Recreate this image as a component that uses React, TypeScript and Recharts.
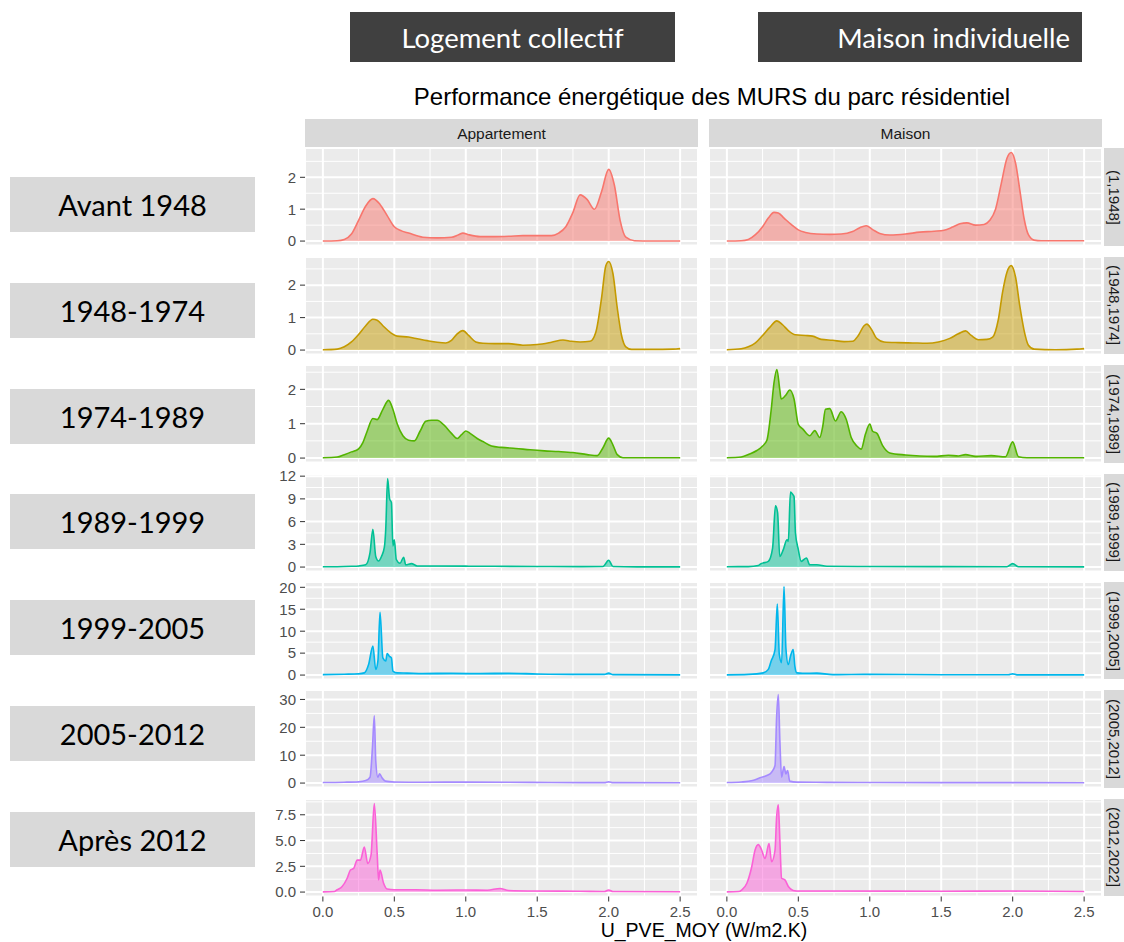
import React from "react";
import { Area, AreaChart, CartesianGrid, XAxis, YAxis } from "recharts";

const headerLabels = ["Logement collectif", "Maison individuelle"];
const periodLabels = ["Avant 1948", "1948-1974", "1974-1989", "1989-1999", "1999-2005", "2005-2012", "Après 2012"];
const periods = ["(1,1948]", "(1948,1974]", "(1974,1989]", "(1989,1999]", "(1999,2005]", "(2005,2012]", "(2012,2022]"];
const housingTypes = ["Appartement", "Maison"];
const palette = ["#F8766D", "#C49A00", "#53B400", "#00C094", "#00B6EB", "#A58AFF", "#FB61D7"];

const xTicks = [0, 0.5, 1, 1.5, 2, 2.5];
const xMinorTicks = [0.25, 0.75, 1.25, 1.75, 2.25];
const yTicks = [
  [0, 1, 2],
  [0, 1, 2],
  [0, 1, 2],
  [0, 3, 6, 9, 12],
  [0, 5, 10, 15, 20],
  [0, 10, 20, 30],
  [0, 2.5, 5, 7.5],
];
const yMinorTicks = [
  [0.5, 1.5, 2.5],
  [0.5, 1.5, 2.5],
  [0.5, 1.5, 2.5],
  [1.5, 4.5, 7.5, 10.5],
  [2.5, 7.5, 12.5, 17.5],
  [5, 15, 25],
  [1.25, 3.75, 6.25, 8.75],
];

// [U_PVE_MOY, density]
type Pt = [number, number];

const appart1948: Pt[] = [[0, 0], [0.1, 0.01], [0.15, 0.05], [0.2, 0.22], [0.25, 0.65], [0.3, 1.1], [0.35, 1.33], [0.4, 1.15], [0.45, 0.8], [0.5, 0.45], [0.55, 0.32], [0.6, 0.25], [0.7, 0.12], [0.8, 0.1], [0.9, 0.12], [0.95, 0.2], [0.98, 0.25], [1.02, 0.2], [1.1, 0.14], [1.2, 0.14], [1.3, 0.15], [1.4, 0.17], [1.5, 0.17], [1.6, 0.17], [1.65, 0.25], [1.7, 0.45], [1.75, 0.9], [1.8, 1.45], [1.85, 1.3], [1.9, 1.0], [1.95, 1.55], [2.0, 2.25], [2.04, 1.75], [2.08, 0.65], [2.12, 0.12], [2.18, 0.01], [2.3, 0], [2.5, 0]];
const maison1948: Pt[] = [[0, 0], [0.1, 0.01], [0.15, 0.05], [0.2, 0.2], [0.25, 0.45], [0.29, 0.72], [0.33, 0.9], [0.36, 0.88], [0.4, 0.72], [0.45, 0.52], [0.5, 0.35], [0.55, 0.27], [0.63, 0.22], [0.72, 0.21], [0.8, 0.22], [0.88, 0.3], [0.93, 0.42], [0.975, 0.48], [1.02, 0.36], [1.07, 0.24], [1.14, 0.19], [1.25, 0.22], [1.35, 0.28], [1.45, 0.31], [1.52, 0.34], [1.58, 0.44], [1.63, 0.54], [1.68, 0.57], [1.74, 0.5], [1.8, 0.52], [1.84, 0.65], [1.88, 1.0], [1.92, 1.8], [1.96, 2.6], [1.99, 2.78], [2.02, 2.45], [2.05, 1.6], [2.08, 0.7], [2.11, 0.2], [2.15, 0.03], [2.2, 0.01], [2.5, 0.01]];

const appart1974: Pt[] = [[0, 0.01], [0.1, 0.03], [0.15, 0.1], [0.2, 0.25], [0.25, 0.48], [0.3, 0.75], [0.35, 0.95], [0.38, 0.92], [0.42, 0.75], [0.47, 0.55], [0.52, 0.43], [0.6, 0.4], [0.66, 0.35], [0.73, 0.29], [0.8, 0.24], [0.86, 0.22], [0.9, 0.3], [0.94, 0.5], [0.98, 0.6], [1.02, 0.45], [1.07, 0.25], [1.12, 0.21], [1.2, 0.2], [1.3, 0.2], [1.4, 0.15], [1.5, 0.17], [1.6, 0.24], [1.68, 0.31], [1.74, 0.27], [1.8, 0.25], [1.87, 0.27], [1.91, 0.55], [1.95, 1.6], [1.98, 2.6], [2.0, 2.73], [2.03, 2.35], [2.06, 1.3], [2.09, 0.45], [2.12, 0.1], [2.16, 0.02], [2.3, 0.02], [2.45, 0.03], [2.5, 0.05]];
const maison1974: Pt[] = [[0, 0.01], [0.1, 0.04], [0.15, 0.1], [0.2, 0.22], [0.25, 0.45], [0.3, 0.7], [0.35, 0.9], [0.39, 0.78], [0.43, 0.6], [0.48, 0.47], [0.55, 0.45], [0.6, 0.43], [0.66, 0.33], [0.74, 0.3], [0.82, 0.26], [0.88, 0.27], [0.92, 0.45], [0.96, 0.75], [0.98, 0.8], [1.01, 0.65], [1.05, 0.35], [1.1, 0.25], [1.2, 0.23], [1.3, 0.22], [1.4, 0.21], [1.48, 0.25], [1.56, 0.36], [1.62, 0.5], [1.67, 0.59], [1.71, 0.45], [1.76, 0.32], [1.82, 0.33], [1.86, 0.4], [1.9, 0.95], [1.93, 1.8], [1.96, 2.4], [1.99, 2.6], [2.02, 2.25], [2.05, 1.35], [2.08, 0.6], [2.11, 0.15], [2.15, 0.03], [2.3, 0.01], [2.45, 0.03], [2.5, 0.05]];

const appart1989: Pt[] = [[0, 0.01], [0.1, 0.03], [0.15, 0.1], [0.2, 0.18], [0.25, 0.27], [0.28, 0.45], [0.31, 0.78], [0.35, 1.15], [0.38, 1.12], [0.42, 1.42], [0.46, 1.68], [0.49, 1.42], [0.52, 1.0], [0.56, 0.65], [0.6, 0.52], [0.64, 0.5], [0.68, 0.78], [0.72, 1.07], [0.76, 1.1], [0.8, 1.1], [0.85, 0.95], [0.9, 0.72], [0.94, 0.57], [0.97, 0.68], [1.0, 0.79], [1.03, 0.72], [1.08, 0.57], [1.12, 0.48], [1.18, 0.35], [1.25, 0.31], [1.35, 0.28], [1.45, 0.24], [1.55, 0.21], [1.65, 0.19], [1.75, 0.16], [1.85, 0.1], [1.92, 0.07], [1.96, 0.3], [2.0, 0.58], [2.03, 0.38], [2.06, 0.1], [2.1, 0.01], [2.5, 0.01]];
const maison1989: Pt[] = [[0, 0.01], [0.1, 0.03], [0.16, 0.12], [0.21, 0.22], [0.25, 0.35], [0.28, 0.52], [0.31, 1.4], [0.33, 2.2], [0.35, 2.58], [0.37, 2.0], [0.38, 1.72], [0.41, 1.82], [0.44, 1.98], [0.47, 1.72], [0.5, 0.98], [0.53, 0.85], [0.58, 0.65], [0.615, 0.8], [0.65, 0.6], [0.67, 0.9], [0.69, 1.42], [0.72, 1.44], [0.76, 1.08], [0.8, 1.35], [0.835, 1.13], [0.87, 0.6], [0.91, 0.35], [0.94, 0.26], [0.97, 0.7], [1.0, 0.99], [1.02, 0.78], [1.05, 0.72], [1.09, 0.36], [1.14, 0.15], [1.25, 0.09], [1.35, 0.06], [1.45, 0.05], [1.55, 0.08], [1.62, 0.06], [1.67, 0.1], [1.74, 0.05], [1.85, 0.07], [1.95, 0.04], [2.0, 0.47], [2.04, 0.04], [2.1, 0.01], [2.5, 0.01]];

const appart1999: Pt[] = [[0, 0.05], [0.1, 0.05], [0.2, 0.1], [0.25, 0.15], [0.3, 0.3], [0.33, 1.9], [0.35, 5.0], [0.37, 1.4], [0.39, 0.8], [0.41, 1.4], [0.43, 2.6], [0.44, 5.0], [0.453, 11.7], [0.467, 9.0], [0.48, 8.5], [0.49, 2.8], [0.5, 3.6], [0.514, 1.0], [0.54, 0.5], [0.565, 1.3], [0.58, 0.3], [0.62, 0.45], [0.66, 0.15], [0.8, 0.15], [1.0, 0.12], [1.2, 0.1], [1.5, 0.08], [1.8, 0.06], [1.96, 0.08], [2.0, 0.9], [2.03, 0.08], [2.2, 0.03], [2.5, 0.02]];
const maison1999: Pt[] = [[0, 0.05], [0.15, 0.06], [0.22, 0.2], [0.24, 0.45], [0.29, 0.75], [0.32, 2.5], [0.34, 8.1], [0.355, 7.2], [0.37, 1.4], [0.395, 2.3], [0.42, 3.6], [0.43, 3.4], [0.445, 9.9], [0.46, 9.6], [0.47, 9.3], [0.48, 4.5], [0.5, 2.3], [0.52, 0.75], [0.557, 1.2], [0.58, 0.3], [0.63, 0.3], [0.7, 0.1], [1.0, 0.08], [1.5, 0.06], [1.96, 0.05], [2.0, 0.45], [2.04, 0.05], [2.5, 0.03]];

const appart2005: Pt[] = [[0, 0.1], [0.15, 0.2], [0.25, 0.3], [0.29, 0.5], [0.32, 2.4], [0.35, 6.6], [0.37, 1.3], [0.385, 3.2], [0.4, 14.3], [0.42, 3.9], [0.44, 3.2], [0.45, 4.9], [0.465, 4.3], [0.48, 3.9], [0.49, 0.9], [0.52, 0.5], [0.59, 0.45], [0.7, 0.35], [0.9, 0.4], [1.1, 0.35], [1.3, 0.4], [1.5, 0.25], [1.8, 0.15], [1.97, 0.15], [2.0, 0.45], [2.03, 0.1], [2.5, 0.05]];
const maison2005: Pt[] = [[0, 0.05], [0.15, 0.15], [0.255, 0.5], [0.29, 1.3], [0.31, 3.2], [0.337, 5.8], [0.353, 16.2], [0.367, 4.7], [0.383, 2.8], [0.4, 20.2], [0.413, 6.2], [0.43, 2.4], [0.445, 4.3], [0.464, 5.8], [0.476, 2.0], [0.49, 0.5], [0.53, 0.4], [0.63, 0.45], [0.74, 0.1], [1.0, 0.15], [1.5, 0.08], [1.97, 0.08], [2.0, 0.3], [2.03, 0.05], [2.5, 0.05]];

const appart2012: Pt[] = [[0, 0.2], [0.15, 0.3], [0.25, 0.5], [0.3, 0.9], [0.33, 2.1], [0.347, 12.8], [0.36, 24.1], [0.37, 8.1], [0.385, 2.1], [0.397, 3.3], [0.414, 1.9], [0.437, 0.7], [0.5, 0.4], [0.7, 0.3], [1.0, 0.35], [1.3, 0.3], [1.6, 0.2], [1.97, 0.15], [2.0, 0.5], [2.03, 0.15], [2.5, 0.1]];
const maison2012: Pt[] = [[0, 0.2], [0.1, 0.4], [0.18, 0.9], [0.232, 1.9], [0.28, 2.7], [0.313, 3.9], [0.337, 6.3], [0.348, 23.5], [0.36, 31.8], [0.371, 15.2], [0.383, 2.1], [0.4, 5.9], [0.413, 3.3], [0.425, 4.5], [0.44, 0.7], [0.49, 0.35], [0.7, 0.25], [1.0, 0.2], [1.5, 0.15], [2.0, 0.15], [2.5, 0.1]];

const appart2022: Pt[] = [[0, 0.02], [0.08, 0.05], [0.1, 0.22], [0.135, 0.54], [0.17, 1.34], [0.193, 2.14], [0.216, 2.3], [0.24, 3.1], [0.263, 3.1], [0.29, 4.38], [0.314, 2.78], [0.337, 3.58], [0.36, 8.6], [0.38, 3.74], [0.39, 1.18], [0.4, 2.14], [0.425, 0.86], [0.45, 0.29], [0.5, 0.22], [0.65, 0.22], [0.8, 0.18], [1.0, 0.2], [1.15, 0.18], [1.24, 0.35], [1.3, 0.15], [1.5, 0.1], [1.8, 0.08], [1.97, 0.05], [2.0, 0.2], [2.03, 0.05], [2.5, 0.03]];
const maison2022: Pt[] = [[0, 0.02], [0.08, 0.05], [0.105, 0.22], [0.14, 0.86], [0.174, 2.46], [0.197, 4.06], [0.22, 4.6], [0.244, 4.06], [0.267, 3.26], [0.295, 4.7], [0.313, 2.94], [0.337, 4.06], [0.348, 7.25], [0.36, 8.47], [0.371, 5.0], [0.383, 1.34], [0.406, 1.18], [0.43, 0.54], [0.464, 0.16], [0.51, 0.1], [0.8, 0.1], [1.5, 0.08], [2.0, 0.1], [2.5, 0.05]];

const facets: Pt[][][] = [
  [appart1948, maison1948],
  [appart1974, maison1974],
  [appart1989, maison1989],
  [appart1999, maison1999],
  [appart2005, maison2005],
  [appart2012, maison2012],
  [appart2022, maison2022],
];

// layout (px)
const PANEL_LEFT = [305, 709];
const PANEL_W = 393;
const PANEL_TOP = 148.3;
const PANEL_H = 97.5;
const ROW_STEP = 108.4;
const Y_AXIS_W = 45;
const X_AXIS_H = 30;
const PAD = 8; // room so edge tick labels are not clipped
const xDomain: [number, number] = [-0.125, 2.625];

const ggFont = "'Liberation Sans', Arial, sans-serif";
const boxFont = "Lato, 'Open Sans', sans-serif";
const tickStyle = { fontSize: 15, fill: "#4D4D4D", fontFamily: ggFont };

function Facet({ row, col }: { row: number; col: number }) {
  const isLeft = col === 0;
  const isBottom = row === periods.length - 1;
  const data = facets[row][col].map(([u, d]) => ({ u, d }));
  // shared y scale across the row, expanded 5% like ggplot
  const yMax = Math.max(...facets[row].flatMap((s) => s.map((p) => p[1])));
  const yDomain: [number, number] = [-0.05 * yMax, 1.05 * yMax];
  const fmtY = (v: number) => (row === 6 ? v.toFixed(1) : String(v));
  return (
    <div
      style={{
        position: "absolute",
        left: PANEL_LEFT[col] - (isLeft ? Y_AXIS_W : 0),
        top: PANEL_TOP + row * ROW_STEP - PAD,
      }}
    >
      <AreaChart
        width={(isLeft ? Y_AXIS_W : 0) + PANEL_W}
        height={PANEL_H + 2 * PAD + (isBottom ? X_AXIS_H : 0)}
        data={data}
        margin={{ top: PAD, right: 0, bottom: PAD, left: 0 }}
      >
        <XAxis
          dataKey="u"
          type="number"
          domain={xDomain}
          ticks={xTicks}
          interval={0}
          allowDataOverflow
          hide={!isBottom}
          height={X_AXIS_H}
          axisLine={false}
          tickSize={5}
          tickMargin={5}
          tickLine={{ stroke: "#333333" }}
          tick={tickStyle}
          tickFormatter={(v: number) => v.toFixed(1)}
        />
        <XAxis xAxisId="minor" dataKey="u" type="number" domain={xDomain} ticks={xMinorTicks} allowDataOverflow hide />
        <YAxis
          type="number"
          domain={yDomain}
          ticks={yTicks[row]}
          interval={0}
          allowDataOverflow
          hide={!isLeft}
          width={Y_AXIS_W}
          axisLine={false}
          tickSize={5}
          tickMargin={4}
          tickLine={{ stroke: "#333333" }}
          tick={tickStyle}
          tickFormatter={fmtY}
        />
        <YAxis yAxisId="minor" type="number" domain={yDomain} ticks={yMinorTicks[row]} allowDataOverflow hide />
        <CartesianGrid xAxisId="minor" yAxisId="minor" fill="#EBEBEB" fillOpacity={1} stroke="#FFFFFF" strokeWidth={1} />
        <CartesianGrid stroke="#FFFFFF" strokeWidth={2} />
        <Area
          dataKey="d"
          type="monotone"
          baseValue={0}
          stroke={palette[row]}
          strokeWidth={1.6}
          fill={palette[row]}
          fillOpacity={0.5}
          dot={false}
          activeDot={false}
          isAnimationActive={false}
        />
      </AreaChart>
    </div>
  );
}

export default function App() {
  return (
    <div
      style={{
        position: "absolute",
        left: 0,
        top: 0,
        width: 1124,
        height: 942,
        overflow: "hidden",
        background: "#FFFFFF",
        fontFamily: ggFont,
      }}
    >
      {headerLabels.map((label, i) => (
        <div
          key={label}
          style={{
            position: "absolute",
            left: i === 0 ? 350 : 758,
            top: 12,
            width: i === 0 ? 325 : 324,
            height: 50,
            background: "#404040",
            color: "#FFFFFF",
            fontFamily: boxFont,
            fontSize: 27.5,
            display: "flex",
            alignItems: "center",
            justifyContent: i === 0 ? "center" : "flex-end",
            paddingRight: i === 0 ? 0 : 12,
            boxSizing: "border-box",
          }}
        >
          {label}
        </div>
      ))}

      <div
        style={{
          position: "absolute",
          left: 312,
          top: 85,
          width: 800,
          textAlign: "center",
          fontSize: 24,
          lineHeight: "24px",
          color: "#000000",
        }}
      >
        Performance énergétique des MURS du parc résidentiel
      </div>

      {periodLabels.map((label, i) => (
        <div
          key={label}
          style={{
            position: "absolute",
            left: 10,
            top: 177 + i * 105.8,
            width: 245,
            height: 55,
            background: "#D9D9D9",
            color: "#000000",
            fontFamily: boxFont,
            fontSize: 29,
            display: "flex",
            alignItems: "center",
            justifyContent: "center",
          }}
        >
          {label}
        </div>
      ))}

      {housingTypes.map((label, col) => (
        <div
          key={label}
          style={{
            position: "absolute",
            left: PANEL_LEFT[col],
            top: 119.3,
            width: PANEL_W,
            height: 29,
            background: "#D9D9D9",
            color: "#1A1A1A",
            fontSize: 15.5,
            display: "flex",
            alignItems: "center",
            justifyContent: "center",
          }}
        >
          {label}
        </div>
      ))}

      {periods.map((label, row) => (
        <div
          key={label}
          style={{
            position: "absolute",
            left: 1104,
            top: PANEL_TOP + row * ROW_STEP,
            width: 20,
            height: PANEL_H,
            background: "#D9D9D9",
            color: "#1A1A1A",
            fontSize: 15,
            display: "flex",
            alignItems: "center",
            justifyContent: "center",
            writingMode: "vertical-rl",
            whiteSpace: "nowrap",
          }}
        >
          {label}
        </div>
      ))}

      {periods.map((_, row) =>
        housingTypes.map((_, col) => <Facet key={`${row}-${col}`} row={row} col={col} />)
      )}

      <div
        style={{
          position: "absolute",
          left: 304,
          top: 919,
          width: 800,
          textAlign: "center",
          fontSize: 19.5,
          lineHeight: "22px",
          color: "#000000",
        }}
      >
        U_PVE_MOY (W/m2.K)
      </div>
    </div>
  );
}
